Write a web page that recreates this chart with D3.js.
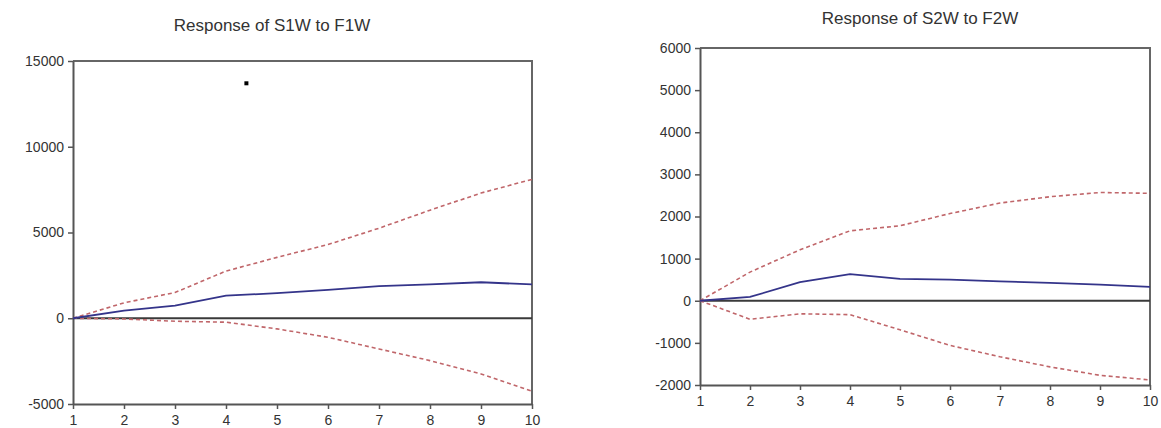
<!DOCTYPE html>
<html>
<head>
<meta charset="utf-8">
<script src="https://cdn.jsdelivr.net/npm/d3@7"></script>
<style>
  body { margin: 0; background: #fff; }
  svg { display: block; font-family: "Liberation Sans", Arial, sans-serif; }
</style>
</head>
<body>
<svg id="chart" width="1161" height="428"></svg>
<script>
// periods after the shock
const steps = [1, 2, 3, 4, 5, 6, 7, 8, 9, 10];

// Response of S1W to F1W
const s1Response = [0, 450, 740, 1320, 1460, 1650, 1870, 1970, 2100, 1970];
const s1Upper = [0, 900, 1500, 2750, 3550, 4300, 5250, 6300, 7300, 8100];
const s1Lower = [0, -40, -175, -230, -620, -1110, -1790, -2470, -3250, -4250];
const s1Ticks = [-5000, 0, 5000, 10000, 15000];
const s1Stray = [{ step: 4.4, value: 13700 }];

// Response of S2W to F2W
const s2Response = [0, 90, 440, 630, 520, 500, 460, 425, 385, 330];
const s2Upper = [0, 680, 1210, 1660, 1780, 2070, 2320, 2470, 2570, 2550];
const s2Lower = [0, -440, -310, -330, -690, -1060, -1330, -1570, -1770, -1880];
const s2Ticks = [-2000, -1000, 0, 1000, 2000, 3000, 4000, 5000, 6000];

const svg = d3.select("#chart");

// plain hyphen for negatives, as in the original
const fmt = d => String(d);

function DrawPanel(cfg) {
    const x = d3.scaleLinear().domain([1, 10]).range([cfg.left, cfg.right]);
    const y = d3.scaleLinear().domain(cfg.domain).range([cfg.bottom, cfg.top]);
    const g = svg.append("g");

    // title
    g.append("text")
        .attr("x", cfg.titleX)
        .attr("y", cfg.titleY)
        .attr("text-anchor", "middle")
        .attr("font-size", "17px")
        .attr("fill", "#333")
        .text(cfg.title);

    // frame (top and right sides)
    g.append("path")
        .attr("d", `M${cfg.left},${cfg.top}H${cfg.right}V${cfg.bottom}`)
        .attr("fill", "none")
        .attr("stroke", "#666")
        .attr("stroke-width", 2);

    // y axis
    const yAxis = g.append("g")
        .attr("transform", `translate(${cfg.left},0)`)
        .call(d3.axisLeft(y).tickValues(cfg.ticks).tickSize(5).tickSizeOuter(0).tickPadding(4).tickFormat(fmt));
    // x axis
    const xAxis = g.append("g")
        .attr("transform", `translate(0,${cfg.bottom})`)
        .call(d3.axisBottom(x).tickValues(steps).tickSize(5).tickSizeOuter(0).tickPadding(6).tickFormat(fmt));

    [yAxis, xAxis].forEach(a => {
        a.select(".domain").attr("stroke", "#555").attr("stroke-width", 2);
        a.selectAll(".tick line").attr("stroke", "#555").attr("stroke-width", 1.5);
        a.selectAll(".tick text").attr("font-size", "14px").attr("fill", "#333")
            .attr("font-family", "'Liberation Sans', Arial, sans-serif");
    });

    // zero line
    g.append("line")
        .attr("x1", x(1)).attr("x2", x(10))
        .attr("y1", y(0)).attr("y2", y(0))
        .attr("stroke", "#3a3a3a")
        .attr("stroke-width", 2);

    const line = d3.line().x((d, i) => x(steps[i])).y(d => y(d));

    // confidence bands
    [cfg.upper, cfg.lower].forEach(band => {
        g.append("path")
            .attr("d", line(band))
            .attr("fill", "none")
            .attr("stroke", "#c0666a")
            .attr("stroke-width", 1.6)
            .attr("stroke-dasharray", "4,3");
    });

    // impulse response
    g.append("path")
        .attr("d", line(cfg.response))
        .attr("fill", "none")
        .attr("stroke", "#34348a")
        .attr("stroke-width", 1.8);

    // stray marker in the original picture
    g.selectAll("rect.stray")
        .data(cfg.stray || [])
        .join("rect")
        .attr("class", "stray")
        .attr("x", d => x(d.step) - 2)
        .attr("y", d => y(d.value) - 2)
        .attr("width", 4)
        .attr("height", 4)
        .attr("fill", "#000");
}

DrawPanel({
    title: "Response of S1W to F1W",
    titleX: 272, titleY: 31,
    left: 73, right: 532, top: 61, bottom: 404,
    domain: [-5000, 15000],
    ticks: s1Ticks,
    response: s1Response, upper: s1Upper, lower: s1Lower,
    stray: s1Stray
});

DrawPanel({
    title: "Response of S2W to F2W",
    titleX: 920, titleY: 24,
    left: 700, right: 1150, top: 48, bottom: 385,
    domain: [-2000, 6000],
    ticks: s2Ticks,
    response: s2Response, upper: s2Upper, lower: s2Lower
});
</script>
</body>
</html>
